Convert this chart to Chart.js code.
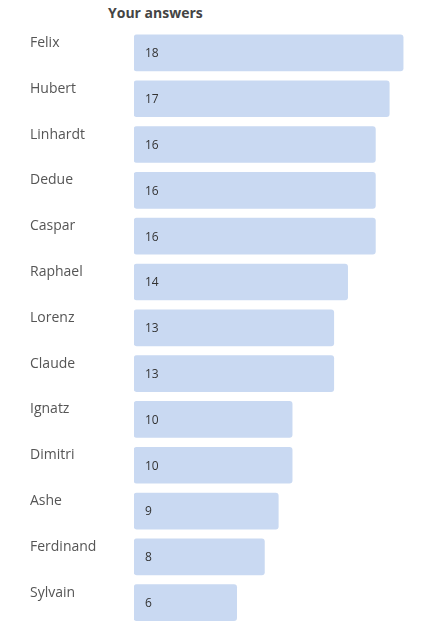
<!DOCTYPE html>
<html>
<head>
<meta charset="utf-8">
<script src="https://cdn.jsdelivr.net/npm/chart.js@4"></script>
<style>
  html, body { margin: 0; padding: 0; background: #fff; }
  #wrap { position: relative; width: 423px; height: 637px; }
  #title { position: absolute; left: 108px; top: 3px; font: bold 14px "Open Sans", sans-serif; color: #444; }
  canvas { position: absolute; left: 0; top: 0; }
</style>
</head>
<body>
<div id="wrap">
  <div id="title">Your answers</div>
  <canvas id="chart" width="423" height="637"></canvas>
</div>
<script>
const names = ["Felix", "Hubert", "Linhardt", "Dedue", "Caspar", "Raphael", "Lorenz", "Claude", "Ignatz", "Dimitri", "Ashe", "Ferdinand", "Sylvain"]
const answers = [18, 17, 16, 16, 16, 14, 13, 13, 10, 10, 9, 8, 6]

// draws the count just inside the start of each bar
const valueLabels = {
  id: 'valueLabels',
  afterDatasetsDraw(chart) {
    const ctx = chart.ctx
    const meta = chart.getDatasetMeta(0)
    ctx.save()
    ctx.font = '12px "Open Sans", sans-serif'
    ctx.fillStyle = '#333'
    ctx.textBaseline = 'middle'
    meta.data.forEach((bar, i) => {
      ctx.fillText(answers[i], bar.base + 11, bar.y + 1)
    })
    ctx.restore()
  }
}

new Chart(document.getElementById('chart'), {
  type: 'bar',
  data: {
    labels: names,
    datasets: [{
      data: answers,
      base: -1.4,
      backgroundColor: '#c9d9f2',
      borderRadius: 3,
      borderSkipped: false,
      barThickness: 36
    }]
  },
  options: {
    indexAxis: 'y',
    responsive: false,
    animation: false,
    layout: { padding: { left: 30, top: 30, right: 6, bottom: 7 } },
    plugins: {
      legend: { display: false },
      tooltip: { enabled: false }
    },
    scales: {
      x: { display: false, min: -1.4, max: 19 },
      y: {
        grid: { display: false },
        border: { display: false },
        afterFit(scale) { scale.width = 104 },
        ticks: {
          crossAlign: 'far',
          labelOffset: -10,
          color: '#555',
          font: { family: '"Open Sans", sans-serif', size: 14 }
        }
      }
    }
  },
  plugins: [valueLabels]
})
</script>
</body>
</html>
